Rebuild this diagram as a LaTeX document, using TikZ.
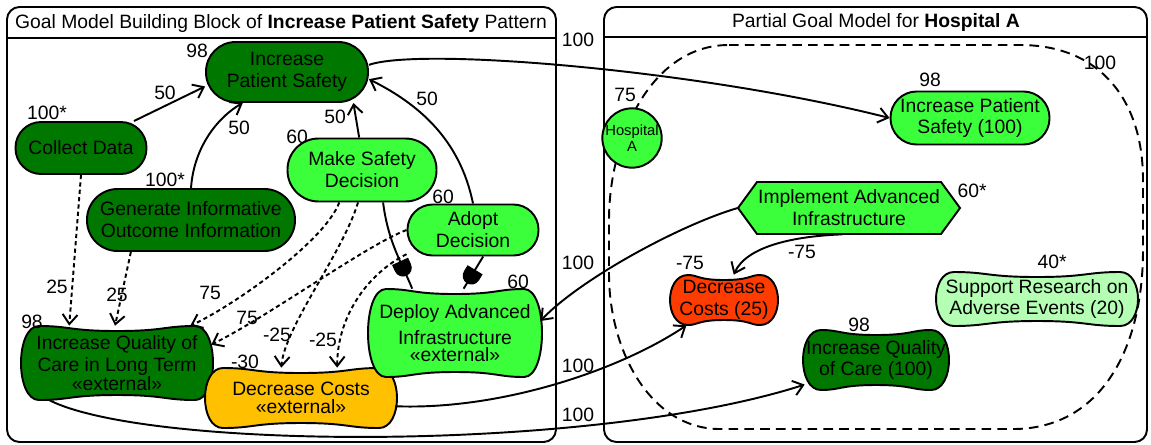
\documentclass[tikz,border=0pt]{standalone}
\usepackage{fontspec}
\setmainfont{Liberation Sans}
\usepackage{tikz}
\usetikzlibrary{arrows.meta,decorations.markings}
\tikzset{>={Straight Barb[length=5.5pt,width=8.5pt]}}
\definecolor{gdark}{HTML}{007800}
\definecolor{glight}{HTML}{3CFF3C}
\definecolor{gpale}{HTML}{B4FFB4}
\definecolor{corange}{HTML}{FFC000}
\definecolor{cred}{HTML}{FF3C00}
\tikzset{
  every node/.style={font=\fontsize{11}{12.5}\selectfont},
  panel/.style={line width=1.1pt,rounded corners=0.25cm},
  goal/.style n args={3}{rectangle,draw,line width=1.1pt,fill=#1,inner sep=0pt,align=center,
    minimum width=#2*0.02cm,minimum height=#3*0.02cm,rounded corners=#3*0.01cm-0.2pt},
  txt/.style={inner sep=0pt,align=center},
  val/.style={inner sep=0pt},
  actor/.style={circle,draw,line width=1.1pt,fill=glight,inner sep=0pt,align=center,
    minimum size=1.08cm,font=\fontsize{8.4}{9}\selectfont},
  link/.style={line width=1.1pt},
  contrib/.style={line width=1.1pt,dash pattern=on 2.4pt off 1.8pt},
  boundary/.style={line width=1.1pt,dash pattern=on 5.5pt off 3.5pt},
  andmark/.style={postaction={decorate,decoration={markings,
    mark=at position #1 with {\fill (-4pt,-5pt) -- (0pt,-5pt) arc(-90:90:5pt) -- (-4pt,5pt) -- cycle;}}}},
}
% softgoal: name, x, y, half width, half height, fill, text
\newcommand{\softgoal}[7]{%
  \filldraw[fill=#6,line width=1.1pt]
    (#2-#4+16,#3-#5) .. controls (#2-#4/2,#3-#5) and (#2-#4/2,#3-#5+5) .. (#2,#3-#5+5)
    .. controls (#2+#4/2,#3-#5+5) and (#2+#4/2,#3-#5) .. (#2+#4-16,#3-#5)
    .. controls (#2+#4+8,#3-#5) and (#2+#4+8,#3+#5) .. (#2+#4-16,#3+#5)
    .. controls (#2+#4/2,#3+#5) and (#2+#4/2,#3+#5-5) .. (#2,#3+#5-5)
    .. controls (#2-#4/2,#3+#5-5) and (#2-#4/2,#3+#5) .. (#2-#4+16,#3+#5)
    .. controls (#2-#4-8,#3+#5) and (#2-#4-8,#3-#5) .. (#2-#4+16,#3-#5) -- cycle;
  \node[txt,minimum width=#4*0.04cm,minimum height=#5*0.04cm] (#1) at (#2,#3) {#7};
}
% task: name, x, y, half width, half height, text
\newcommand{\taskhex}[6]{%
  \filldraw[fill=glight,line width=1.1pt] (#2-#4,#3) -- (#2-#4+19,#3-#5) -- (#2+#4-19,#3-#5)
    -- (#2+#4,#3) -- (#2+#4-19,#3+#5) -- (#2-#4+19,#3+#5) -- cycle;
  \node[txt,minimum width=#4*0.04cm,minimum height=#5*0.04cm] (#1) at (#2,#3) {#6};
}

\begin{document}
\begin{tikzpicture}[x=0.02cm,y=-0.02cm]
\useasboundingbox (0,0) rectangle (1151,444);
% panels
\draw[panel] (7,7) rectangle (556,442);
\draw[line width=1.1pt] (7,38) -- (556,38);
\node[val] (ttlL) at (281,23) {Goal Model Building Block of \textbf{Increase Patient Safety} Pattern};
\draw[panel] (604,7) rectangle (1147,442);
\draw[line width=1.1pt] (604,37) -- (1147,37);
\node[val] (ttlR) at (876,22) {Partial Goal Model for \textbf{Hospital A}};
\draw[boundary] (729,45) -- (1020,45) .. controls (1100,45) and (1143,100) .. (1143,180) -- (1143,250)
  .. controls (1143,350) and (1100,429) .. (1013,429) -- (720,429)
  .. controls (650,429) and (609,350) .. (609,274) -- (609,220)
  .. controls (609,140) and (650,45) .. (729,45) -- cycle;

% building block
\node[goal={gdark}{162}{60}] (ipsL) at (287,72) {Increase\\Patient Safety};
\node[goal={gdark}{131}{52}] (cd) at (81,148) {Collect Data};
\node[goal={gdark}{208}{62}] (gen) at (191,220) {Generate Informative\\Outcome Information};
\node[goal={glight}{149}{63}] (msd) at (362,170) {Make Safety\\Decision};
\node[goal={glight}{131}{51}] (ad) at (473,230) {Adopt\\Decision};
\softgoal{iqlt}{117}{363}{94}{37}{gdark}{Increase Quality of\\Care in Long Term\\[-2pt]«external»}
\softgoal{dcl}{301}{398}{94}{30}{corange}{Decrease Costs\\[-2pt]«external»}
\softgoal{dai}{455}{333}{85}{44}{glight}{Deploy Advanced\\[2pt]Infrastructure\\[-3pt]«external»}

% hospital A
\node[actor] (hosp) at (632,138) {Hospital\\A};
\node[goal={glight}{159}{53}] (ipsR) at (970,118) {Increase Patient\\Safety (100)};
\taskhex{iai}{849}{208}{111}{26}{Implement Advanced\\Infrastructure}
\softgoal{dcr}{724}{300}{52}{25}{cred}{Decrease\\Costs (25)}
\softgoal{sra}{1037}{299}{99}{27}{gpale}{Support Research on\\Adverse Events (20)}
\softgoal{iqc}{876}{360}{71}{30}{gdark}{Increase Quality\\of Care (100)}

% links
\draw[link,->] (cd.27) -- (ipsL.190);
\draw[link,->] (gen.north) .. controls +(3,-43) and +(-23,13) .. (ipsL.215);
\draw[link,->] (msd.95) -- (ipsL.335);
\draw[link,->] (ad.north) .. controls +(-13,-64) and +(50,25) .. (ipsL.355);
\draw[link,andmark=0.75] (msd.303) .. controls +(5,40) and +(-10,-25) .. (dai.134);
\draw[link,andmark=0.6] (ad.291) -- (dai.79);
\draw[contrib,->] (cd.south) -- (iqlt.142);
\draw[contrib,->] (gen.208) -- (iqlt.93);
\draw[contrib,->] (msd.235) .. controls +(-15,40) and +(40,-18) .. (iqlt.27);
\draw[contrib,->] (ad.west) .. controls +(-40,15) and +(60,-30) .. (iqlt.11);
\draw[contrib,->] (msd.263) .. controls +(-15,50) and +(3,-40) .. (dcl.123);
\draw[contrib,->] (ad.200) .. controls +(-40,20) and +(0,-50) .. (dcl.40);
\draw[link,->] (iai.256) .. controls +(-53,2) and +(12,-27) .. (dcr.69);
% links across the panels
\draw[link,->] (ipsL.5) .. controls +(52,-18) and +(-190,-48) .. (ipsR.west);
\draw[link,->] (iai.west) .. controls +(-58,17) and +(40,-42) .. (dai.8);
\draw[link,->] (dcl.-5) .. controls +(105,4) and +(-67,45) .. (dcr.214);
\draw[link,->] (iqlt.209) .. controls +(100,50) and +(-212,68) .. (iqc.199);

% evaluations
\foreach \x/\y/\t [count=\i] in {197/51/98, 47/113/100*, 165/180/100*, 297/137/60, 443/197/60,
    518/282/60, 32/322/98, 245/362/-30, 625/95/75, 930/80/98, 1100/63/100, 972/191/60*,
    690/263/-75, 1052/262/40*, 859/325/98}
  \node[val] (ev\i) at (\x,\y) {\t};
% contribution values
\foreach \x/\y/\t [count=\i] in {165/93/50, 239/128/50, 335/117/50, 427/99/50, 57/287/25,
    117/295/25, 210/293/75, 247/318/75, 277/335/-25, 323/340/-25, 802/252/-75,
    578/40/100, 578/263/100, 578/366/100, 578/415/100}
  \node[val] (cv\i) at (\x,\y) {\t};
\end{tikzpicture}
\end{document}
